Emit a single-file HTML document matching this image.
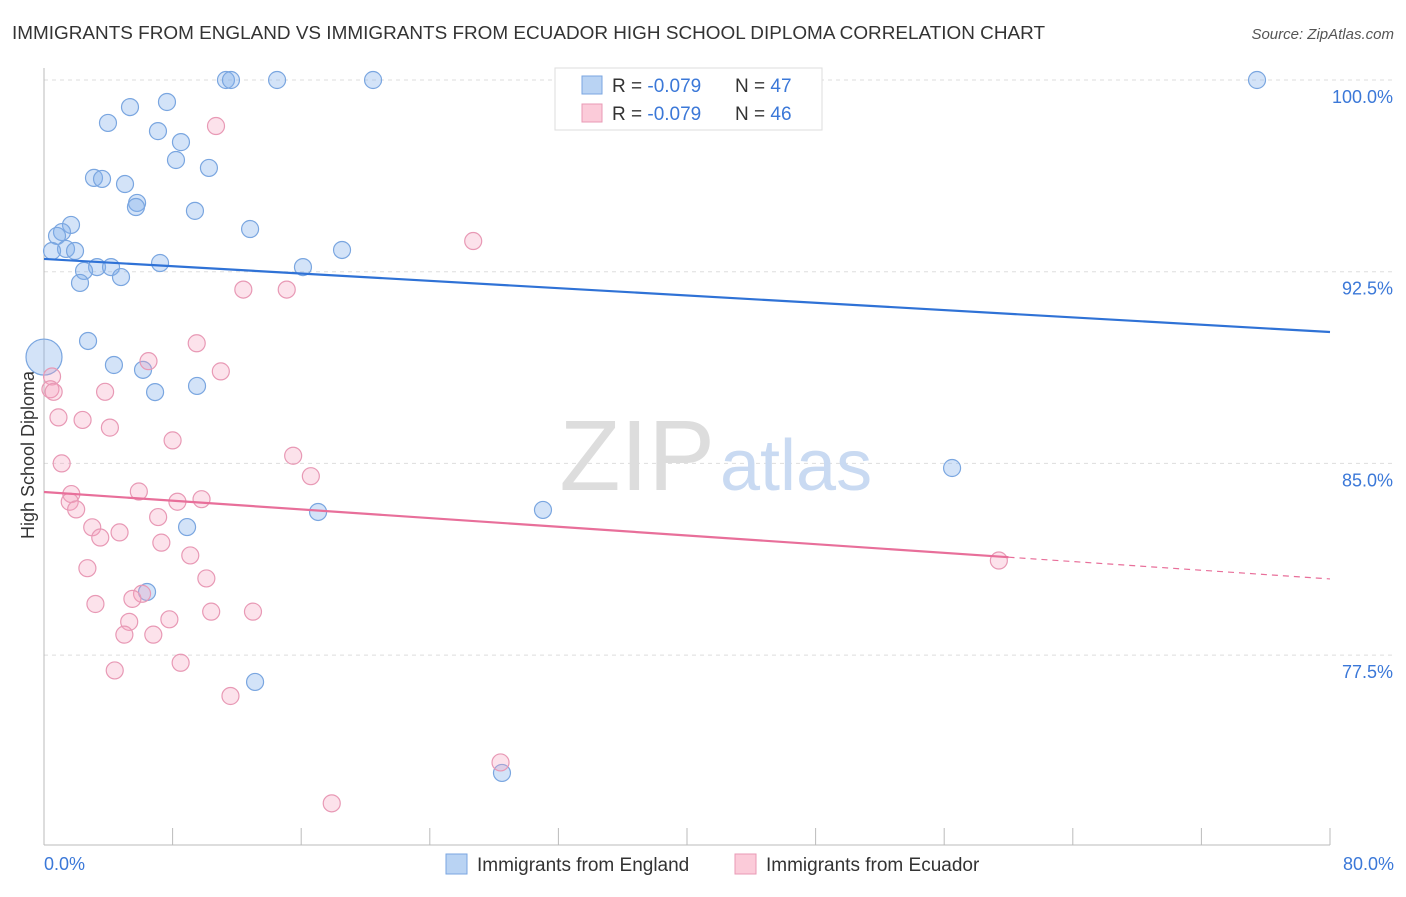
<!DOCTYPE html>
<html><head><meta charset="utf-8"><style>
body{margin:0;background:#fff;font-family:"Liberation Sans",sans-serif}
svg text{font-family:"Liberation Sans",sans-serif}
</style></head><body>
<svg id="chart" width="1406" height="892">
<text x="12" y="39" font-size="18" fill="#333" textLength="1033" lengthAdjust="spacingAndGlyphs">IMMIGRANTS FROM ENGLAND VS IMMIGRANTS FROM ECUADOR HIGH SCHOOL DIPLOMA CORRELATION CHART</text>
<text x="1394" y="39" font-size="15" fill="#555" text-anchor="end" font-style="italic">Source: ZipAtlas.com</text>
<g id="grid"></g>
<text x="715" y="490" font-size="100" fill="#ddd" text-anchor="end" font-family="Liberation Serif">ZIP</text>
<text x="720" y="490" font-size="72" fill="#c9daf2">atlas</text>
<text transform="translate(34,455) rotate(-90)" font-size="18" fill="#333" text-anchor="middle">High School Diploma</text>
<g id="marks"></g>
<g>
<rect x="555" y="68" width="267" height="62" fill="#fff" stroke="#ddd"/>
<rect x="582" y="76" width="20" height="18" fill="#b9d3f3" stroke="#7aa6e0"/>
<rect x="582" y="104" width="20" height="18" fill="#fbcbd9" stroke="#e899b5"/>
<text x="612" y="92" font-size="19" fill="#333">R = <tspan fill="#3b78d8">-0.079</tspan></text>
<text x="735" y="92" font-size="19" fill="#333">N = <tspan fill="#3b78d8">47</tspan></text>
<text x="612" y="120" font-size="19" fill="#333">R = <tspan fill="#3b78d8">-0.079</tspan></text>
<text x="735" y="120" font-size="19" fill="#333">N = <tspan fill="#3b78d8">46</tspan></text>
</g>
<g>
<rect x="446" y="854" width="21" height="20" fill="#b9d3f3" stroke="#7aa6e0"/>
<text x="477" y="871" font-size="19" fill="#333">Immigrants from England</text>
<rect x="735" y="854" width="21" height="20" fill="#fbcbd9" stroke="#e899b5"/>
<text x="766" y="871" font-size="19" fill="#333">Immigrants from Ecuador</text>
</g>
</svg>
<script>
const yTicks=[100,92.5,85,77.5];
const xTickLabels=["0.0%","80.0%"];
const engX=[11.32,11.63,14.5,20.47,33.03,75.46,5.35,7.65,3.98,7.09,8.52,8.21,10.26,3.11,3.61,5.04,5.79,5.72,9.39,1.68,1.12,0.81,12.82,1.37,1.93,0.5,18.54,7.22,3.3,4.17,2.49,4.79,2.24,16.11,2.74,0,4.35,6.16,9.52,6.91,56.49,17.05,31.04,8.9,6.41,13.13,28.49];
const engY=[100,100,100,100,100,100,98.94,99.14,98.32,98.0,97.57,96.87,96.56,96.17,96.13,95.93,95.19,95.03,94.88,94.33,94.05,93.9,94.17,93.39,93.31,93.31,93.35,92.84,92.68,92.68,92.53,92.29,92.06,92.68,89.79,89.16,88.85,88.66,88.03,87.79,84.82,83.1,83.18,82.51,79.97,76.45,72.89];
const ecuX=[10.7,26.7,12.4,15.1,9.5,6.5,11.0,0.5,0.4,0.6,3.8,0.9,2.4,4.1,8.0,15.5,16.6,1.1,1.7,1.6,5.9,8.3,9.8,2.0,7.1,3.0,4.7,3.5,7.3,9.1,2.7,10.1,6.1,5.5,3.2,5.3,7.8,10.4,13.0,5.0,6.8,8.5,4.4,11.6,28.4,17.9,59.4];
const ecuY=[98.2,93.7,91.8,91.8,89.7,89.0,88.6,88.4,87.9,87.8,87.8,86.8,86.7,86.4,85.9,85.3,84.5,85.0,83.8,83.5,83.9,83.5,83.6,83.2,82.9,82.5,82.3,82.1,81.9,81.4,80.9,80.5,79.9,79.7,79.5,78.8,78.9,79.2,79.2,78.3,78.3,77.2,76.9,75.9,73.3,71.7,81.2];
const engTrend=[93.0,90.14];
const ecuTrend=[83.88,80.48];
const NS="http://www.w3.org/2000/svg";
const X=v=>44+v/80*1286;
const Y=v=>80+(100-v)/7.5*191.7;
function mk(tag,attrs,parent){const e=document.createElementNS(NS,tag);for(const k in attrs)e.setAttribute(k,attrs[k]);parent.appendChild(e);return e;}
const grid=document.getElementById('grid'),marks=document.getElementById('marks');
yTicks.forEach(t=>{
 const l=mk('line',{x1:44,x2:1394,y1:Y(t),y2:Y(t),stroke:'#ddd','stroke-dasharray':'4,4'},grid);
 
 
 const tx=mk('text',{x:1393,y:Y(t)+23,'font-size':18,fill:'#3b78d8','text-anchor':'end'},grid);
 tx.textContent=t.toFixed(1)+'%';
 
 
});
const ax=mk('line',{x1:44,x2:1330,y1:845,y2:845,stroke:'#bbb'},grid);


const ay=mk('line',{x1:44,x2:44,y1:68,y2:845,stroke:'#bbb'},grid);


for(let i=0;i<=10;i++){const t=mk('line',{x1:X(i*8),x2:X(i*8),y1:828,y2:845,stroke:'#bbb'},grid);
 
 }
[[0,'start',44],[80,'end',1394]].forEach((d,i)=>{const t=mk('text',{x:d[2],y:870,'font-size':18,fill:'#3b78d8','text-anchor':d[1]},grid);t.textContent=xTickLabels[i];
 
 });
function pts(xs,ys,fill,stroke,name){xs.forEach((x,i)=>{const r=(i===35&&name==='england-point')?18:8.5;
 const c=mk('circle',{cx:X(x),cy:Y(ys[i]),r:r,fill:fill,stroke:stroke,'stroke-width':1.2},marks);
 
 });}
pts(engX,engY,'rgba(130,175,235,0.35)','#7aa6e0','england-point');
pts(ecuX,ecuY,'rgba(245,160,190,0.3)','#e899b5','ecuador-point');
const l1=mk('line',{x1:X(0),y1:Y(engTrend[0]),x2:X(80),y2:Y(engTrend[1]),stroke:'#2f72d6','stroke-width':2.2},marks);


const ecuAt=v=>ecuTrend[0]+(ecuTrend[1]-ecuTrend[0])*v/80;
const l2=mk('line',{x1:X(0),y1:Y(ecuTrend[0]),x2:X(60),y2:Y(ecuAt(60)),stroke:'#e86f9a','stroke-width':2.2},marks);


const l3=mk('line',{x1:X(60),y1:Y(ecuAt(60)),x2:X(80),y2:Y(ecuTrend[1]),stroke:'#e86f9a','stroke-width':1.2,'stroke-dasharray':'6,5'},marks);


</script>
</body></html>
